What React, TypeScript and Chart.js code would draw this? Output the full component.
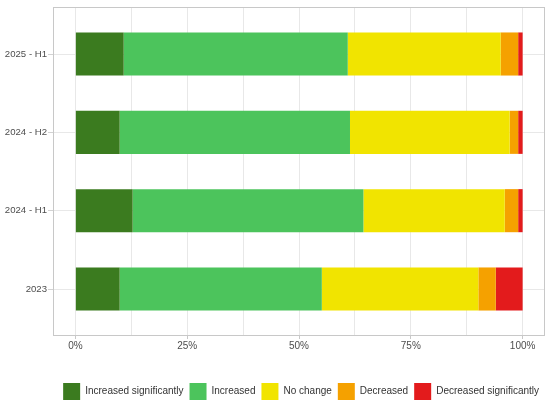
import React, { useEffect, useRef } from 'react';
import { Chart, registerables } from 'chart.js';

Chart.register(...registerables);

// categories from bottom to top (index on the y scale)
const periods = ['2023', '2024 - H1', '2024 - H2', '2025 - H1'];

const seriesNames = [
    'Increased significantly',
    'Increased',
    'No change',
    'Decreased',
    'Decreased significantly',
];

const increasedSignificantly = [9.9, 12.8, 9.9, 10.8];
const increased = [45.2, 51.6, 51.5, 50.1];
const noChange = [35.0, 31.6, 35.7, 34.2];
const decreased = [3.9, 3.0, 1.9, 3.9];
const decreasedSignificantly = [6.0, 1.0, 1.0, 1.0];

const seriesColors = ['#3b7b1f', '#4cc45c', '#f1e400', '#f5a100', '#e31b1c'];

const xTicks = [0, 25, 50, 75, 100];

const FONT = "'Liberation Sans', Arial, sans-serif";

const panelBorder = {
    id: 'panelBorder',
    afterDatasetsDraw(chart: Chart) {
        const { ctx, chartArea } = chart;
        const l = Math.round(chartArea.left) + 0.5;
        const t = Math.round(chartArea.top) + 0.5;
        const r = Math.round(chartArea.right) - 0.5;
        const b = Math.round(chartArea.bottom) - 0.5;
        ctx.save();
        ctx.strokeStyle = '#c8c8c8';
        ctx.lineWidth = 1;
        ctx.strokeRect(l, t, r - l, b - t);
        ctx.restore();
    },
};

const App = () => {
    const chartRef = useRef<HTMLCanvasElement | null>(null);

    useEffect(() => {
        let myChart: Chart | null = null;
        const canvas = chartRef.current;
        if (canvas) {
            const ctx = canvas.getContext('2d');
            if (ctx) {
                const allSeries = [increasedSignificantly, increased, noChange, decreased, decreasedSignificantly];
                myChart = new Chart(ctx, {
                    type: 'bar',
                    data: {
                        datasets: allSeries.map((values, i) => ({
                            label: seriesNames[i],
                            data: values.map((v, idx) => ({ x: v, y: idx })),
                            backgroundColor: seriesColors[i],
                            borderColor: seriesColors[i],
                            borderWidth: 0,
                            categoryPercentage: 1,
                            barPercentage: 0.55,
                        })),
                    },
                    plugins: [panelBorder],
                    options: {
                        indexAxis: 'y',
                        animation: false,
                        responsive: false,
                        layout: { padding: { top: 7, right: 5, bottom: -5, left: 0 } },
                        scales: {
                            x: {
                                type: 'linear',
                                stacked: true,
                                min: -5,
                                max: 105,
                                border: { display: false },
                                grid: {
                                    color: '#e8e8e8',
                                    lineWidth: 1,
                                    tickLength: 3,
                                    tickColor: (c: any) =>
                                        xTicks.includes(c.tick?.value) ? '#c8c8c8' : 'rgba(0,0,0,0)',
                                },
                                ticks: {
                                    stepSize: 12.5,
                                    includeBounds: false,
                                    autoSkip: false,
                                    maxRotation: 0,
                                    padding: 1,
                                    color: '#4d4d4d',
                                    font: { family: FONT, size: 10 },
                                    callback: (value: any) =>
                                        xTicks.includes(Number(value)) ? value + '%' : '',
                                },
                                afterFit: (scale: any) => {
                                    scale.height = 41;
                                },
                            },
                            y: {
                                type: 'linear',
                                stacked: true,
                                offset: false,
                                min: -0.6,
                                max: 3.6,
                                border: { display: false },
                                grid: {
                                    offset: false,
                                    color: '#e8e8e8',
                                    lineWidth: 1,
                                    tickLength: 5,
                                    tickColor: '#d2d2d2',
                                },
                                ticks: {
                                    stepSize: 1,
                                    includeBounds: false,
                                    autoSkip: false,
                                    padding: 1,
                                    color: '#4d4d4d',
                                    font: { family: FONT, size: 9.6 },
                                    callback: (value: any) => periods[Number(value)] ?? '',
                                },
                                afterFit: (scale: any) => {
                                    scale.width = 53;
                                },
                            },
                        },
                        plugins: {
                            legend: {
                                position: 'bottom',
                                align: 'end',
                                labels: {
                                    boxWidth: 17,
                                    boxHeight: 17,
                                    padding: 6,
                                    color: '#333333',
                                    font: { family: FONT, size: 10 },
                                },
                            },
                            tooltip: { enabled: false },
                        },
                    },
                } as any);
            }
        }
        return () => {
            if (myChart) {
                myChart.destroy();
            }
        };
    }, []);

    return (
        <div style={{ position: 'absolute', left: 0, top: 0, width: 550, height: 405, background: '#ffffff' }}>
            <canvas ref={chartRef} width="550" height="405"></canvas>
        </div>
    );
};

export default App;
